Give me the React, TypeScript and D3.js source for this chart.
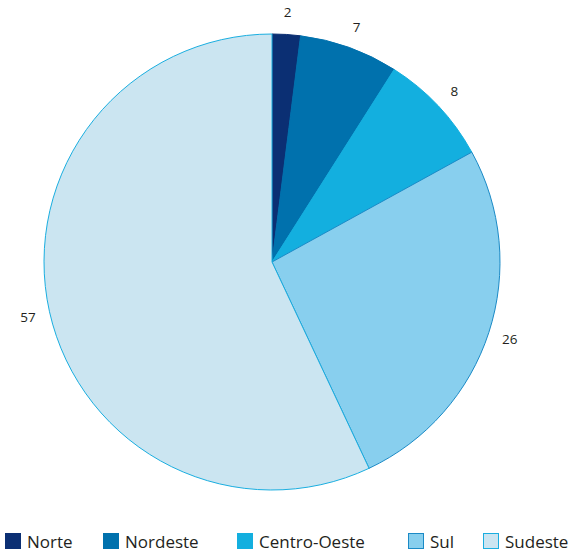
import React, { useEffect, useRef } from 'react'
import * as d3 from 'd3'

// regions, share in percent
const regions = ['Norte', 'Nordeste', 'Centro-Oeste', 'Sul', 'Sudeste']
const values = [2, 7, 8, 26, 57]
const fills = ['#0b2f73', '#0071ad', '#13afdf', '#88cfee', '#cbe5f1']
const strokes = ['#0b2f73', '#0071ad', '#13afdf', '#1b8ac6', '#1aaee0']
const legendX = [5, 103, 237, 408, 483]

function App () {
  const ref = useRef<SVGSVGElement>(null)

  useEffect(() => {
    const svg = d3.select(ref.current)
    svg.selectAll('*').remove()

    const width = 571
    const height = 553
    const cx = 272
    const cy = 262
    const radius = 228
    const font = '"Open Sans", "Noto Sans", sans-serif'

    const data = regions.map((r, i) => ({ region: r, value: values[i], i }))

    const pie = d3.pie<any>()
      .sort(null)
      .value(d => d.value)

    const arc = d3.arc<any>()
      .innerRadius(0)
      .outerRadius(radius)

    const labelArc = d3.arc<any>()
      .innerRadius(250)
      .outerRadius(250)

    const g = svg.append('g')
      .attr('transform', 'translate(' + cx + ',' + cy + ')')

    const arcs = pie(data)

    g.selectAll('path')
      .data(arcs)
      .enter()
      .append('path')
      .attr('d', arc)
      .attr('fill', d => fills[d.data.i])
      .attr('stroke', d => strokes[d.data.i])
      .attr('stroke-width', 1)

    g.selectAll('text')
      .data(arcs)
      .enter()
      .append('text')
      .attr('transform', d => 'translate(' + labelArc.centroid(d) + ')')
      .attr('text-anchor', 'middle')
      .attr('dominant-baseline', 'central')
      .attr('font-family', font)
      .attr('font-size', 13.5)
      .attr('fill', '#231f20')
      .text(d => d.data.value)

    // legend (kept just inside the bottom edge)
    const legend = svg.append('g')
    const item = legend.selectAll('g')
      .data(data)
      .enter()
      .append('g')
      .attr('transform', d => 'translate(' + legendX[d.i] + ',' + 533 + ')')

    item.append('rect')
      .attr('x', 0.5)
      .attr('y', 0.5)
      .attr('width', 15)
      .attr('height', 15)
      .attr('fill', d => fills[d.i])
      .attr('stroke', d => strokes[d.i])

    item.append('text')
      .attr('x', 22)
      .attr('y', 14.5)
      .attr('font-family', font)
      .attr('font-size', 17)
      .attr('fill', '#231f20')
      .text(d => d.region)

    svg.attr('width', width).attr('height', height)
  }, [])

  return (
    <svg ref={ref} width={571} height={553} style={{ position: 'absolute', left: 0, top: 0, display: 'block' }} />
  )
}

export default App
